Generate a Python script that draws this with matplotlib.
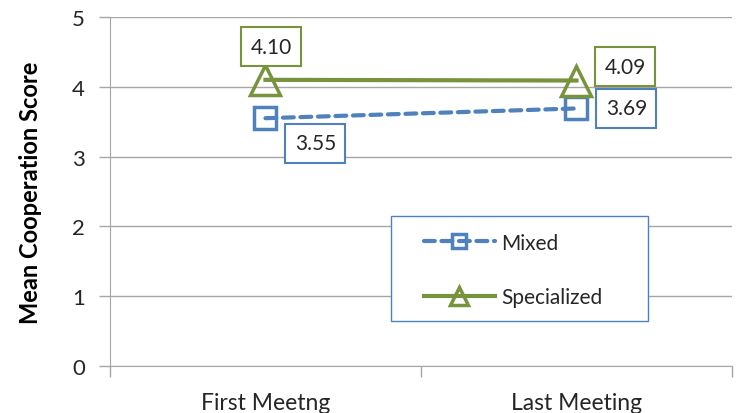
import numpy as np
import matplotlib.pyplot as plt
from matplotlib.patches import Rectangle

plt.rcParams['font.family'] = ['Lato', 'DejaVu Sans']

meetings = ['First Meetng', 'Last Meeting']
mixed = [3.55, 3.69]
specialized = [4.10, 4.09]
mixed_labels = ['3.55', '3.69']
spec_labels = ['4.10', '4.09']

blue = '#4F81BD'
green = '#77933C'
grid = '#A6A6A6'
txt = '#262626'

fig = plt.figure(figsize=(7.39, 4.14), dpi=100)
ax = fig.add_axes([0.1488, 0.1135, 0.8417, 0.843])

x = np.arange(len(meetings))
ax.plot(x, mixed, color=blue, lw=3, ls=(0, (2.6, 1.6)), marker='s', ms=16,
        mfc='none', mec=blue, mew=2.5, label='Mixed', dash_capstyle='round')
ax.plot(x, specialized, color=green, lw=3, marker='^', ms=22,
        mfc='none', mec=green, mew=2.5, label='Specialized')

# data labels
offsets_m = [(50, -25), (50, 0)]
offsets_s = [(6, 33), (49, 14)]
for i in range(len(x)):
    ax.annotate(mixed_labels[i], (x[i], mixed[i]), xytext=offsets_m[i],
                textcoords='offset pixels', ha='center', va='center',
                fontsize=15, color=txt,
                bbox=dict(boxstyle='square,pad=0.45', fc='white', ec=blue, lw=1.5))
    ax.annotate(spec_labels[i], (x[i], specialized[i]), xytext=offsets_s[i],
                textcoords='offset pixels', ha='center', va='center',
                fontsize=15, color=txt,
                bbox=dict(boxstyle='square,pad=0.45', fc='white', ec=green, lw=1.5))

ax.set_xlim(-0.5, 1.5)
ax.set_ylim(0, 5)
ax.set_yticks(range(6))
ax.set_xticks(x)
ax.set_xticklabels(meetings)
ax.set_xticks([-0.5, 0.5, 1.5], minor=True)
ax.tick_params(axis='x', which='major', length=0, pad=19, labelsize=16.5, labelcolor=txt)
ax.tick_params(axis='x', which='minor', length=8, color=grid, width=1)
ax.tick_params(axis='y', length=8, color=grid, width=1, pad=10, labelsize=16, labelcolor=txt)
ax.yaxis.grid(True, color=grid, lw=1)
ax.set_axisbelow(True)
for s in ['top', 'right']:
    ax.spines[s].set_visible(False)
ax.spines['left'].set_color(grid)
ax.spines['bottom'].set_color(grid)

ax.set_ylabel('Mean Cooperation Score', fontsize=17, fontweight='bold', labelpad=22)

# legend box drawn separately so the padding can differ
ax.add_patch(Rectangle((0.452, 0.129), 0.413, 0.301, transform=ax.transAxes,
                       fc='white', ec=blue, lw=1.0, zorder=4))
leg = ax.legend(loc='upper left', bbox_to_anchor=(0.505, 0.382), frameon=False,
                fontsize=15, handlelength=3.4, handletextpad=0.3, labelspacing=1.65,
                borderpad=0, borderaxespad=0, markerscale=0.6)
leg.set_zorder(5)
for t in leg.get_texts():
    t.set_color(txt)

fig.savefig('out.png', dpi=100)
